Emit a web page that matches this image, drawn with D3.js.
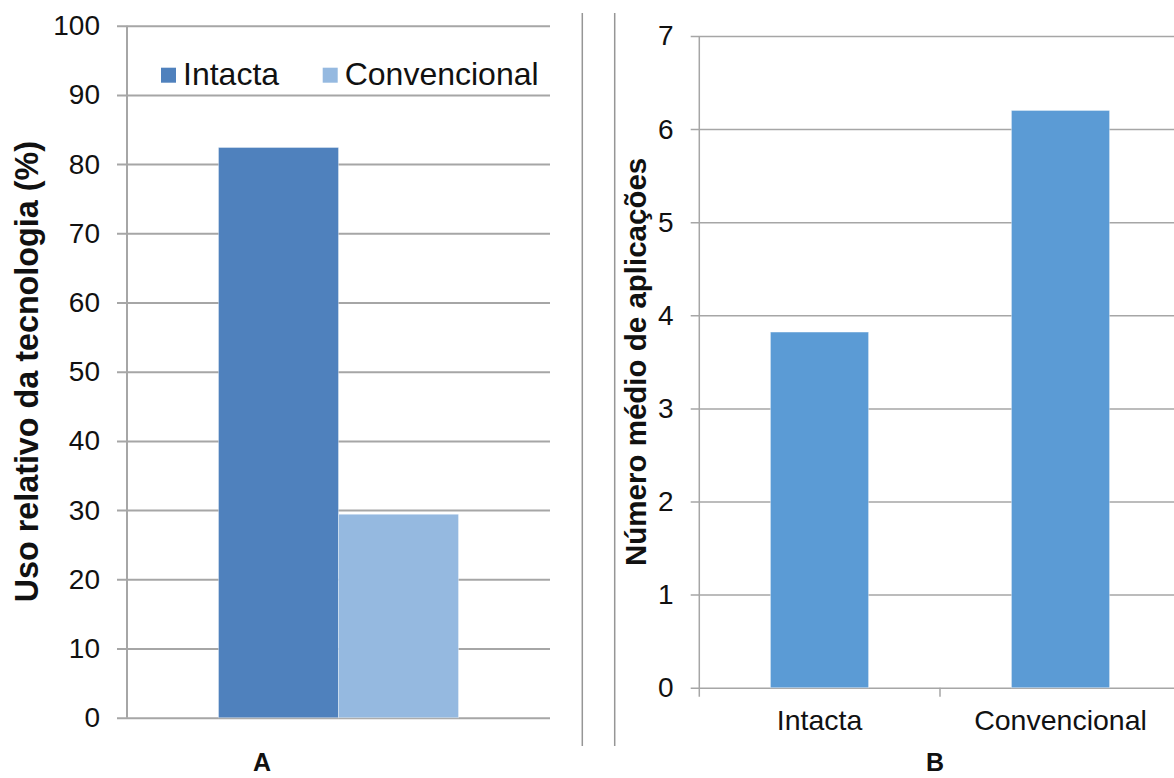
<!DOCTYPE html>
<html>
<head>
<meta charset="utf-8">
<script src="https://cdn.jsdelivr.net/npm/d3@7"></script>
<style>
  body { margin: 0; background: #fff; }
  svg { display: block; font-family: "Liberation Sans", Arial, sans-serif; }
</style>
</head>
<body>
<svg id="chart" width="1174" height="778"></svg>
<script>
// panel A: relative use of the technology (%)
const seriesA = ['Intacta', 'Convencional'];
const valuesA = [82.4, 29.4];
const colorsA = ['#4F81BD', '#95B9E0'];
const ticksA = [0, 10, 20, 30, 40, 50, 60, 70, 80, 90, 100];

// panel B: mean number of applications
const categoriesB = ['Intacta', 'Convencional'];
const valuesB = [3.82, 6.2];
const ticksB = [0, 1, 2, 3, 4, 5, 6, 7];

const svg = d3.select('#chart');
const gridColor = '#A6A6A6';
const font = '"Liberation Sans", Arial, sans-serif';

// ---------- panel A ----------
const yA = d3.scaleLinear().domain([0, 100]).range([717.7, 25.7]);
const xA = d3.scaleBand().domain(['A']).range([127, 550]).padding(0.276);
const xA1 = d3.scaleBand().domain(seriesA).range([0, xA.bandwidth()]);

const gA = svg.append('g');

// gridlines + tick labels (ticks stick out 10px left of the axis)
gA.append('g')
    .attr('transform', 'translate(117,0)')
    .call(d3.axisLeft(yA).tickValues(ticksA).tickSize(-433).tickPadding(17))
    .call((g) => g.select('.domain').remove())
    .call((g) => g.selectAll('line').attr('stroke', gridColor).attr('stroke-width', 2))
    .call((g) => g.selectAll('text').attr('font-size', 28).attr('fill', '#111')
        .attr('font-family', font));

gA.selectAll('.bar')
    .data(seriesA)
    .enter()
    .append('rect')
    .attr('class', 'bar')
    .attr('x', (d) => xA('A') + xA1(d))
    .attr('width', xA1.bandwidth())
    .attr('y', (d, i) => yA(valuesA[i]))
    .attr('height', (d, i) => yA(0) - yA(valuesA[i]))
    .attr('fill', (d, i) => colorsA[i])
    .attr('stroke', 'rgba(255,255,255,0.35)')
    .attr('stroke-width', 1);

// y axis line
gA.append('line')
    .attr('x1', 127).attr('x2', 127)
    .attr('y1', yA(100)).attr('y2', yA(0))
    .attr('stroke', gridColor).attr('stroke-width', 2);

// legend
const legendX = [161, 322.7];
const legend = gA.selectAll('.legend')
    .data(seriesA)
    .enter()
    .append('g')
    .attr('class', 'legend')
    .attr('transform', (d, i) => `translate(${legendX[i]},67.7)`);
legend.append('rect')
    .attr('width', 15).attr('height', 15)
    .attr('fill', (d, i) => colorsA[i]);
legend.append('text')
    .attr('x', 22).attr('y', 17)
    .attr('font-size', 32)
    .attr('fill', '#111')
    .text((d) => d);

gA.append('text')
    .attr('transform', `translate(38,${(yA(0) + yA(100)) / 2}) rotate(-90)`)
    .attr('text-anchor', 'middle')
    .attr('font-size', 32.3)
    .attr('font-weight', 'bold')
    .attr('fill', '#111')
    .text('Uso relativo da tecnologia (%)');

gA.append('text')
    .attr('x', 262).attr('y', 771)
    .attr('text-anchor', 'middle')
    .attr('font-size', 25)
    .attr('font-weight', 'bold')
    .attr('fill', '#111')
    .text('A');

// ---------- separators ----------
svg.selectAll('.sep')
    .data([582.3, 614.7])
    .enter()
    .append('line')
    .attr('class', 'sep')
    .attr('x1', (d) => d).attr('x2', (d) => d)
    .attr('y1', 13).attr('y2', 746)
    .attr('stroke', '#969696').attr('stroke-width', 1.5);

// ---------- panel B ----------
const yB = d3.scaleLinear().domain([0, 7]).range([687.7, 36]);
const xB = d3.scaleBand().domain(categoriesB).range([699, 1181])
    .paddingInner(0.593).paddingOuter(0.2965);

const gB = svg.append('g');

gB.append('g')
    .attr('transform', 'translate(690.7,0)')
    .call(d3.axisLeft(yB).tickValues(ticksB).tickFormat(d3.format('d'))
        .tickSize(-490).tickPadding(17))
    .call((g) => g.select('.domain').remove())
    .call((g) => g.selectAll('line').attr('stroke', gridColor).attr('stroke-width', 1.5))
    .call((g) => g.selectAll('text').attr('font-size', 28).attr('fill', '#111')
        .attr('font-family', font));

gB.selectAll('.bar')
    .data(categoriesB)
    .enter()
    .append('rect')
    .attr('class', 'bar')
    .attr('x', (d) => xB(d))
    .attr('width', xB.bandwidth())
    .attr('y', (d, i) => yB(valuesB[i]))
    .attr('height', (d, i) => yB(0) - yB(valuesB[i]))
    .attr('fill', '#5B9BD5')
    .attr('stroke', 'rgba(255,255,255,0.35)')
    .attr('stroke-width', 1);

// y axis line (runs down past zero as the first category tick)
gB.append('line')
    .attr('x1', 699.3).attr('x2', 699.3)
    .attr('y1', yB(7)).attr('y2', yB(0) + 9)
    .attr('stroke', gridColor).attr('stroke-width', 1.5);

// category axis: tick between categories + labels
const xAxisB = gB.append('g')
    .attr('transform', `translate(0,${yB(0)})`)
    .call(d3.axisBottom(xB).tickSize(0).tickPadding(22))
    .call((g) => g.select('.domain').remove())
    .call((g) => g.selectAll('text').attr('font-size', 28.5).attr('fill', '#111')
        .attr('font-family', font));
xAxisB.append('line')
    .attr('x1', xB.step() + 699).attr('x2', xB.step() + 699)
    .attr('y1', 0).attr('y2', 9)
    .attr('stroke', gridColor).attr('stroke-width', 1.5);

gB.append('text')
    .attr('transform', `translate(646,${(yB(0) + yB(7)) / 2}) rotate(-90)`)
    .attr('text-anchor', 'middle')
    .attr('font-size', 29.5)
    .attr('font-weight', 'bold')
    .attr('fill', '#111')
    .text('Número médio de aplicações');

gB.append('text')
    .attr('x', 935).attr('y', 771)
    .attr('text-anchor', 'middle')
    .attr('font-size', 25)
    .attr('font-weight', 'bold')
    .attr('fill', '#111')
    .text('B');
</script>
</body>
</html>
